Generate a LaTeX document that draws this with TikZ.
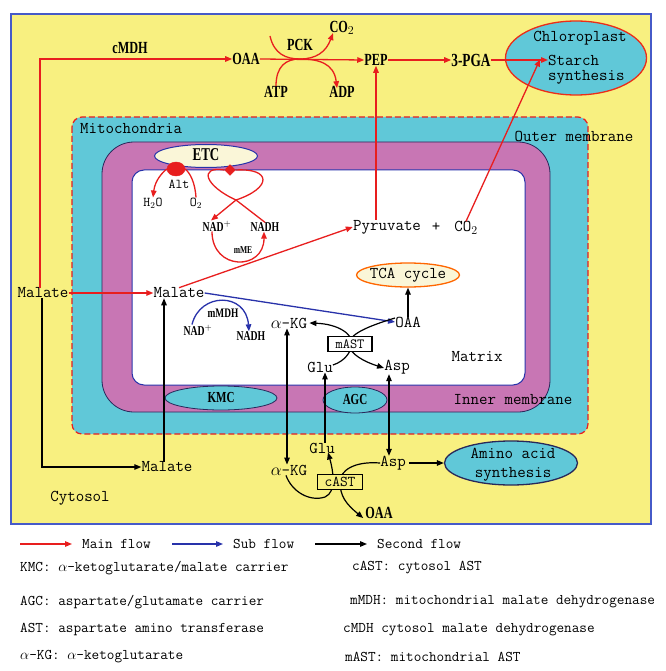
\documentclass[tikz,border=0pt]{standalone}
\usepackage{fontspec}
\usetikzlibrary{arrows.meta,shapes.geometric}
\newcommand{\mono}{\ttfamily\addfontfeatures{FakeBold=1.8}}
\newfontfamily\cond[FakeStretch=0.72]{Liberation Serif}
\definecolor{cyto}{RGB}{248,240,128}
\definecolor{mcyan}{RGB}{96,200,216}
\definecolor{mmag}{RGB}{200,118,180}
\definecolor{bborder}{RGB}{70,90,200}
\definecolor{rline}{RGB}{232,30,30}
\definecolor{cream}{RGB}{250,246,216}
\definecolor{bline}{RGB}{40,50,170}
\definecolor{dborder}{RGB}{40,40,90}
\tikzset{
  mt/.style={font=\fontsize{16.5}{17}\selectfont\mono, inner sep=0pt},
  mts/.style={font=\fontsize{13.5}{14}\selectfont\mono, inner sep=0pt},
  lg/.style={font=\fontsize{14.8}{15}\selectfont\mono, inner sep=0pt, anchor=west},
  bt/.style={font=\cond\bfseries\fontsize{17}{18}\selectfont, inner sep=0pt},
  bts/.style={font=\cond\bfseries\fontsize{13.5}{14}\selectfont, inner sep=0pt},
  tip/.style={-{Triangle[length=7pt,width=5.5pt]}},
  mainf/.style={draw=rline, line width=1.3pt, tip},
  subf/.style={draw=bline, line width=1.3pt, tip},
  secf/.style={draw=black, line width=1.2pt, tip},
  redl/.style={draw=rline, line width=1.3pt},
  carrier/.style={ellipse, draw=dborder, line width=0.8pt, fill=mcyan, inner sep=0pt},
  astbox/.style={draw=black, line width=1.2pt, inner sep=1.5pt, minimum width=44pt, minimum height=15pt}
}
\begin{document}
\begin{tikzpicture}[x=1pt,y=-1pt]
\useasboundingbox (0,0) rectangle (665,671);
\fill[white] (0,0) rectangle (665,671);
% cytosol
\draw[fill=cyto, draw=bborder, line width=1.5pt] (11,14) rectangle (651,524);
% mitochondrion
\draw[fill=mcyan, draw=rline, line width=1.2pt, dash pattern=on 6pt off 3pt, rounded corners=10pt] (72,117) rectangle (588,434);
\draw[fill=mmag, draw=dborder, line width=0.8pt, rounded corners=32pt] (102,142) rectangle (550,412);
\draw[fill=white, draw=bline, line width=1pt, rounded corners=12pt] (132,170) rectangle (525,385);

% labels of compartments
\node[mt, anchor=west] (mito) at (80,129) {Mitochondria};
\node[mt] (outer) at (574,136) {Outer membrane};
\node[mt] (inner) at (513,400) {Inner membrane};
\node[mt] (matrix) at (477,357) {Matrix};
\node[mt] (cyt) at (80,498) {Cytosol};

% carriers
\node[carrier, minimum width=112pt, minimum height=24pt] (kmc) at (221,398) {};
\node[bt, font=\cond\bfseries\fontsize{15.3}{16}\selectfont] at (kmc) {KMC};
\node[carrier, minimum width=64pt, minimum height=26pt] (agc) at (355,400) {};
\node[bt, font=\cond\bfseries\fontsize{15.3}{16}\selectfont] at (agc) {AGC};

% chloroplast
\node[ellipse, draw=rline!85!orange, line width=1.3pt, fill=mcyan, minimum width=141pt, minimum height=74pt, inner sep=0pt] (chl) at (576,58) {};
\node[mt] (chltxt) at (580,38) {Chloroplast};
\node[mt, anchor=west] (starch) at (548,60) {Starch};
\node[mt, anchor=west] (synth) at (548,77) {synthesis};

% amino acid synthesis
\node[ellipse, draw=dborder, line width=1.3pt, fill=mcyan, minimum width=133pt, minimum height=44pt, inner sep=0pt] (amino) at (511,463) {};
\node[mt] (amino1) at (513,453) {Amino acid};
\node[mt] (amino2) at (513,474) {synthesis};

% TCA
\node[ellipse, draw=orange!80!red, line width=1.3pt, fill=cream, minimum width=103pt, minimum height=24pt, inner sep=0pt] (tca) at (408,275) {};
\node[mt] (tcatxt) at (408,275) {TCA cycle};

% ETC
\node[ellipse, draw=bline, line width=1pt, fill=cream, minimum width=103pt, minimum height=23pt, inner sep=0pt] (etc) at (206,156) {};
\node[bt, font=\cond\bfseries\fontsize{18}{18}\selectfont] (etctxt) at (206,155) {ETC};
\node[ellipse, draw=rline, fill=rline, minimum width=18pt, minimum height=14pt, inner sep=0pt] (alt) at (176,169) {};
\node[diamond, draw=rline, fill=rline, minimum width=11pt, minimum height=11pt, inner sep=0pt] (dia) at (230,170) {};
\node[mts] (altt) at (179,184) {Alt};
\node[mts] (h2o) at (153,203) {H$_2$O};
\node[mts] (o2) at (196,203) {O$_2$};
\node[bts] (nad) at (217,226) {NAD$^+$};
\node[bts] (nadh) at (265,227) {NADH};
\node[bts, font=\cond\bfseries\fontsize{10.5}{11}\selectfont] (mme) at (243,250) {mME};

% top row
\node[bt] (cmdh) at (130,48) {cMDH};
\node[bt] (oaac) at (246,59) {OAA};
\node[bt] (pck) at (300,45) {PCK};
\node[bt] (atp) at (276,92) {ATP};
\node[bt] (adp) at (342,92) {ADP};
\node[bt] (co2a) at (342,28) {CO$_2$};
\node[bt] (pep) at (376,60) {PEP};
\node[bt, font=\cond\bfseries\fontsize{18.5}{19}\selectfont] (pga) at (471,60) {3-PGA};

% matrix
\node[mt] (pyr) at (387,227) {Pyruvate};
\node[mt] (plus) at (436,227) {+};
\node[mt] (co2m) at (466,228) {CO$_2$};
\node[mt] (malm) at (179,293) {Malate};
\node[mt] (mall) at (43,293) {Malate};
\node[mt] (malb) at (167,467) {Malate};
\node[bts, font=\cond\bfseries\fontsize{13}{13}\selectfont] (mmdh) at (223,313) {mMDH};
\node[bts] (nad2) at (198,330) {NAD$^+$};
\node[bts] (nadh2) at (251,336) {NADH};
\node[mt] (akgm) at (289,323) {$\alpha$-KG};
\node[mt] (oaam) at (408,322) {OAA};
\node[mt] (glum) at (320,367) {Glu};
\node[mt] (aspm) at (397,367) {Asp};

% cytosol bottom
\node[mt] (akgc) at (289,470) {$\alpha$-KG};
\node[mt] (gluc) at (322,448) {Glu};
\node[mt] (aspc) at (393,463) {Asp};
\node[bt] (oaac2) at (379,513) {OAA};

% ---- main flow (red)
\draw[mainf] ([xshift=-3pt]mall.north) |- (oaac.west);
\draw[mainf] (oaac.east) -- (pep.west);
\draw[mainf] (pep.east) -- (pga.west);
\draw[mainf] (pga.east) -- (starch.west);
\draw[mainf] (mall.east) -- (malm.west);
\draw[mainf] (malm.north) -- (pyr.west);
\draw[mainf] (pep.south |- pyr.north) -- (pep.south);
\draw[mainf] (co2m.north) -- ([xshift=-8pt,yshift=6pt]starch.south west);
% PCK crossing
\coordinate (pcktl) at (270,36);
\draw[mainf] (pcktl) .. controls (274,54) and (286,59) .. (300,59) .. controls (318,59) and (334,63) .. ([xshift=-5pt,yshift=-2pt]adp.north);
\draw[mainf] (atp.north) .. controls (276,66) and (286,59) .. (300,59) .. controls (316,59) and (326,52) .. ([xshift=-9pt,yshift=2pt]co2a.south);
% ETC / Alt
\draw[mainf] (alt.west) .. controls (163,172) and (155,180) .. (h2o.north);
\draw[redl] (alt.east) .. controls (190,173) and (195,182) .. (o2.north);
\draw[redl] (nadh.north) -- (236,200) .. controls (205,186) and (198,166) .. (dia.west);
\draw[mainf] (dia.east) .. controls (272,168) and (272,188) .. (236,200) -- ([xshift=-6pt]nad.north);
\draw[mainf] ([xshift=-5pt]nad.south) .. controls (212,271) and (264,271) .. ([xshift=-1pt]nadh.south);

% ---- sub flow (blue)
\draw[subf] (malm.east) -- (oaam.west);
\draw[subf] ([xshift=-6pt]nad2.north) .. controls (200,292) and (246,292) .. ([xshift=-2pt]nadh2.north);

% ---- second flow (black)
\draw[secf] (oaam.north) -- (tca.south);
\draw[secf] ([xshift=-1pt]mall.south) |- (malb.west);
\draw[secf] ([xshift=-3pt]malb.north) -- ([xshift=-3pt]malb.north |- malm.south);
\draw[secf, {Triangle[length=7pt,width=5.5pt]}-{Triangle[length=7pt,width=5.5pt]}] ([xshift=-2pt]akgm.south) -- ([xshift=-2pt]akgc.north);
\draw[secf] ([xshift=3pt]gluc.north) -- ([xshift=3pt]gluc.north |- glum.south);
\draw[secf, {Triangle[length=7pt,width=5.5pt]}-{Triangle[length=7pt,width=5.5pt]}] ([xshift=-4pt]aspc.north |- aspm.south) -- ([xshift=-4pt]aspc.north);
\draw[secf] ([xshift=3pt]aspc.east) -- (amino.west);
% mAST
\draw[secf] ([yshift=2pt]glum.east) .. controls (345,361) and (351,352) .. (352,344) .. controls (353,334) and (338,324) .. ([xshift=2pt]akgm.east);
\draw[secf] ([yshift=4pt]oaam.west) .. controls (365,327) and (349,335) .. (349,344) .. controls (349,354) and (365,362) .. ([yshift=-1pt]aspm.west);
\node[astbox, fill=white, font=\fontsize{14}{14}\selectfont\mono] (mast) at (350,344) {mAST};
% cAST
\draw[secf] ([xshift=-3pt]akgc.south) .. controls (292,492) and (310,502) .. (325,497) .. controls (337,492) and (333,470) .. ([xshift=6pt,yshift=1pt]gluc.south);
\draw[secf] (aspc.west) .. controls (355,461) and (340,470) .. (340,482) .. controls (340,496) and (346,504) .. ([yshift=-5pt,xshift=-2pt]oaac2.west);
\node[astbox, fill=cyto, minimum width=45pt, font=\fontsize{15}{15}\selectfont\mono] (cast) at (340,482) {cAST};

% ---- legend
\coordinate (l1a) at (20,544);
\coordinate (l2a) at (172,544);
\coordinate (l3a) at (315,544);
\node[lg] (lmain) at (82,544) {Main flow};
\node[lg] (lsub) at (233,544) {Sub flow};
\node[lg] (lsec) at (377,544) {Second flow};
\draw[mainf, line width=1.2pt] (l1a) -- ([xshift=-10pt]lmain.west);
\draw[subf, line width=1.2pt] (l2a) -- ([xshift=-10pt]lsub.west);
\draw[secf] (l3a) -- ([xshift=-10pt]lsec.west);
\node[lg] (k1) at (20,568) {KMC: $\alpha$-ketoglutarate/malate carrier};
\node[lg] (k2) at (20,602) {AGC: aspartate/glutamate carrier};
\node[lg] (k3) at (20,630) {AST: aspartate amino transferase};
\node[lg] (k4) at (20,657) {$\alpha$-KG: $\alpha$-ketoglutarate};
\node[lg] (k5) at (352,568) {cAST: cytosol AST};
\node[lg] (k6) at (350,602) {mMDH: mitochondrial malate dehydrogenase};
\node[lg] (k7) at (343,630) {cMDH cytosol malate dehydrogenase};
\node[lg] (k8) at (345,657) {mAST: mitochondrial AST};
\end{tikzpicture}
\end{document}
